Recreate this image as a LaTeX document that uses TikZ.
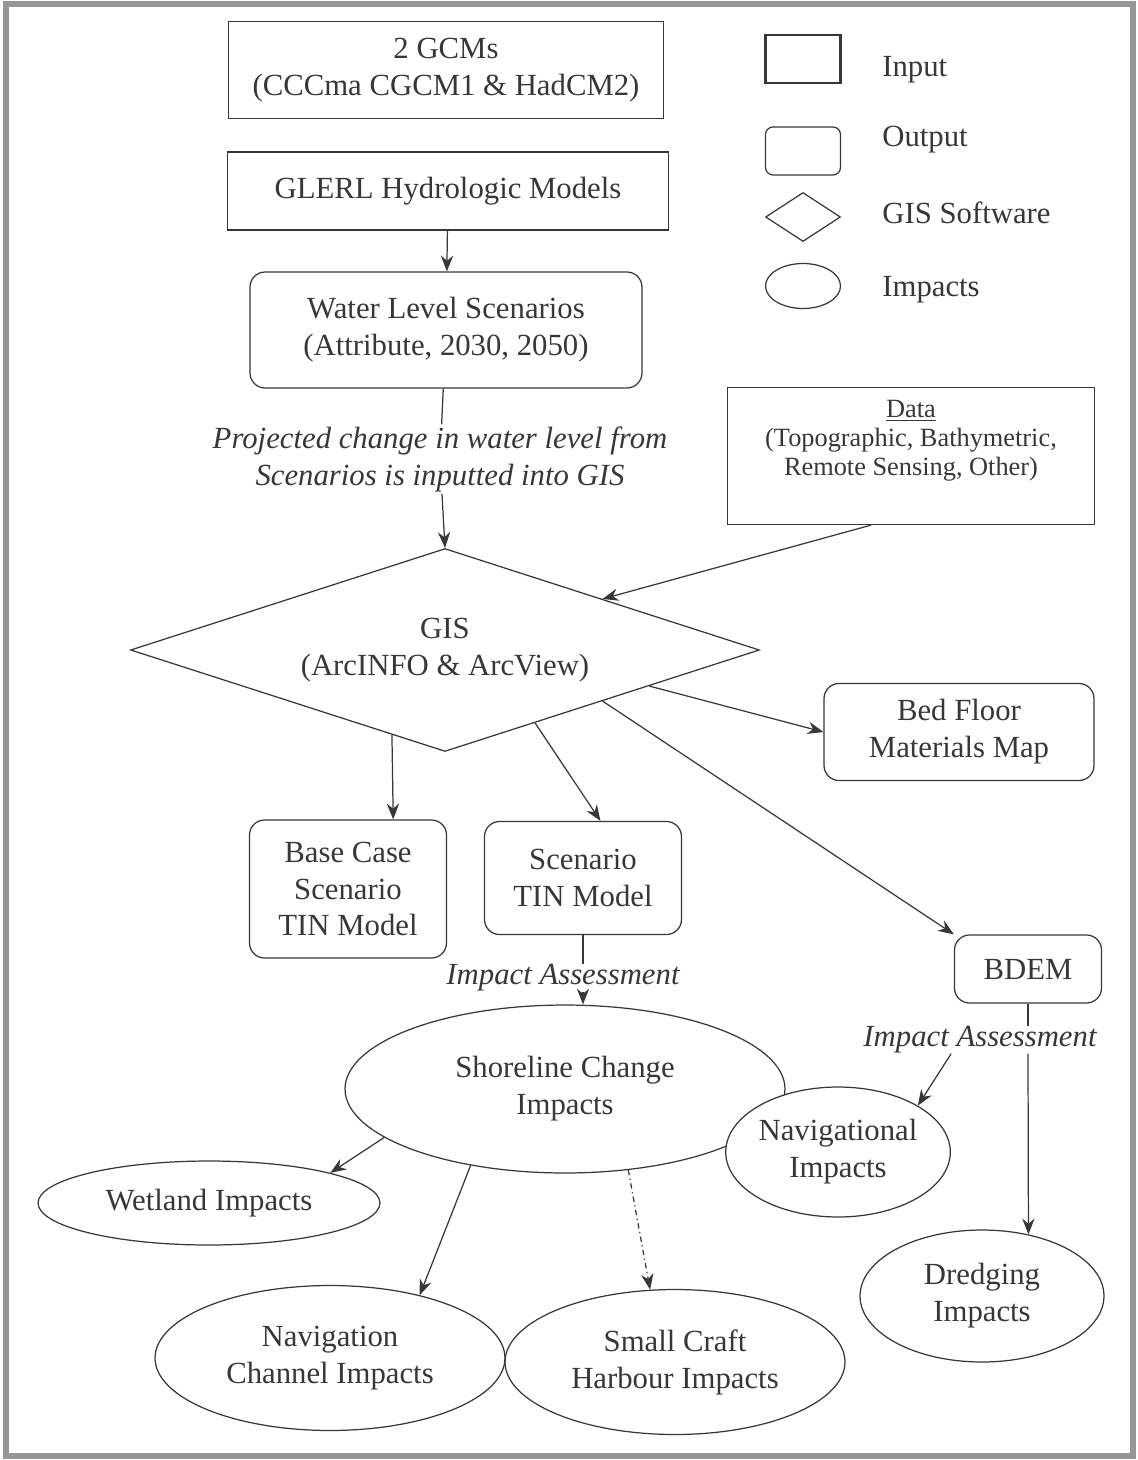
\documentclass[tikz,border=0pt]{standalone}
\usepackage{fontspec}
\setmainfont{Liberation Serif}
\usetikzlibrary{shapes.geometric,arrows.meta}
\definecolor{inkgrey}{RGB}{55,55,55}
\definecolor{framegrey}{RGB}{150,150,150}
\newcommand{\diagfont}{\fontsize{17.5}{21}\selectfont}
\newcommand{\datafont}{\fontsize{15}{16.5}\selectfont}
\tikzset{
  base/.style={draw=inkgrey, line width=0.7pt, align=center, inner sep=0pt, font=\diagfont, text=inkgrey},
  in-box/.style={base, rectangle},
  out-box/.style={base, rectangle, rounded corners=0.3cm},
  soft-box/.style={base, diamond},
  impact/.style={base, ellipse},
  note/.style={align=center, inner sep=1pt, font=\diagfont\itshape, text=inkgrey},
  key/.style={font=\diagfont, text=inkgrey, anchor=west, inner sep=0pt},
  link/.style={draw=inkgrey, line width=0.7pt, -{Stealth[length=9pt, width=7pt]}}
}

\begin{document}
\begin{tikzpicture}[x=0.02cm, y=-0.02cm]
  \useasboundingbox (0,0) rectangle (1138,1460);
  \draw[framegrey, line width=0.12cm] (6,4) rectangle (1133,1456);

  % legend
  \node[in-box, line width=1.4pt, minimum width=1.5cm, minimum height=0.96cm] (key-in) at (803,59) {};
  \node[out-box, rounded corners=0.15cm, minimum width=1.5cm, minimum height=0.96cm] (key-out) at (803,151) {};
  \node[soft-box, minimum width=1.5cm, minimum height=0.98cm] (key-gis) at (803,217) {};
  \node[impact, minimum width=1.5cm, minimum height=0.9cm] (key-imp) at (803,286) {};
  \node[key] (key-in-txt) at (882,70) {Input};
  \node[key] (key-out-txt) at (882,140) {Output};
  \node[key] (key-gis-txt) at (882,213) {GIS Software};
  \node[key] (key-imp-txt) at (882,290) {Impacts};

  % inputs and scenarios
  \node[in-box, minimum width=8.7cm, minimum height=1.94cm] (gcm) at (446,70) {2 GCMs\\(CCCma CGCM1 \& HadCM2)};
  \node[in-box, minimum width=8.82cm, minimum height=1.56cm] (glerl) at (448,191) {GLERL Hydrologic Models};
  \node[out-box, minimum width=7.84cm, minimum height=2.32cm] (wls) at (446,330) {Water Level Scenarios\\(Attribute, 2030, 2050)};
  \node[note] (proj) at (440,459) {Projected change in water level from\\Scenarios is inputted into GIS};
  \node[in-box, font=\datafont, minimum width=7.34cm, minimum height=2.74cm] (data) at (911,456) {\underline{Data}\\(Topographic, Bathymetric,\\Remote Sensing, Other)\\[4pt]\mbox{}};

  % GIS and its outputs
  \node[soft-box, aspect=3.1, minimum width=12.58cm, minimum height=4.06cm] (gis) at (445,650) {GIS\\(ArcINFO \& ArcView)};
  \node[out-box, minimum width=5.4cm, minimum height=1.94cm] (bed) at (959,732) {Bed Floor\\Materials Map};
  \node[out-box, minimum width=3.94cm, minimum height=2.76cm] (base) at (348,889) {Base Case\\Scenario\\TIN Model};
  \node[out-box, minimum width=3.94cm, minimum height=2.26cm] (tin) at (583,878) {Scenario\\TIN Model};
  \node[note, inner sep=0pt] (ia-tin) at (563,978) {Impact Assessment};
  \node[out-box, minimum width=2.94cm, minimum height=1.36cm] (bdem) at (1028,969) {BDEM};
  \node[note, inner sep=0pt] (ia-bdem) at (980,1040) {Impact Assessment};

  % impacts
  \node[impact, minimum width=8.8cm, minimum height=3.36cm] (shore) at (565,1089) {Shoreline Change\\Impacts};
  \node[impact, fill=white, minimum width=4.3cm, minimum height=2.6cm] (nav) at (838,1152) {Navigational\\Impacts};
  \node[impact, minimum width=6.84cm, minimum height=1.68cm] (wet) at (209,1203) {Wetland Impacts};
  \node[impact, minimum width=7.0cm, minimum height=2.9cm] (chan) at (330,1358) {Navigation\\Channel Impacts};
  \node[impact, minimum width=6.8cm, minimum height=2.9cm] (craft) at (675,1362) {Small Craft\\Harbour Impacts};
  \node[impact, minimum width=4.88cm, minimum height=2.64cm] (dredge) at (982,1296) {Dredging\\Impacts};

  % connectors
  \draw[link] (glerl) -- (wls);
  \draw[link, -] (wls) -- (proj);
  \draw[link] (proj) -- (gis.north);
  \draw[link] (data.240) -- (gis.north east);
  \draw[link] (gis.-10) -- (bed.west);
  \draw[link] (gis.south east) -- (bdem.north west);
  \draw[link] (gis.238) -- (base.57);
  \draw[link] (gis.-39) -- (tin.73);
  \draw[link, -] (tin.south) -- (tin.south |- ia-tin.north);
  \draw[link] (tin.south |- ia-tin.south) -- (shore.north -| tin.south);
  \draw[link, -] (bdem.south) -- (bdem.south |- ia-bdem.north);
  \draw[link] (bdem.south |- ia-bdem.south) -- (dredge.53);
  \draw[link] (ia-bdem.south west) ++(88,0) coordinate (ia-foot) (ia-foot) -- (nav.north east);
  \draw[link] (shore.195) -- (wet.north east);
  \draw[link] (shore.219) -- (chan.35);
  \draw[link, dash dot] (shore.-52) -- (craft.109);
\end{tikzpicture}
\end{document}
